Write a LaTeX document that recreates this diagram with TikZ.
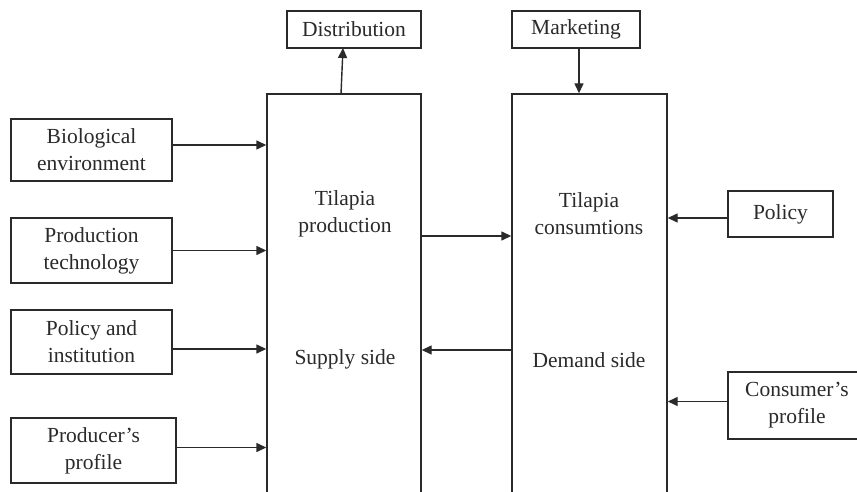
\documentclass[tikz,border=0pt]{standalone}
\usepackage{fontspec}
\setmainfont{Liberation Serif}
\usetikzlibrary{arrows.meta}
\definecolor{ink}{HTML}{2A2A2A}
\begin{document}
\begin{tikzpicture}[x=1pt,y=-1pt,
  box/.style={draw=ink,line width=1.4pt,inner sep=0pt,align=center,text=ink,
    font=\fontsize{21.5}{27}\selectfont},
  lbl/.style={inner sep=0pt,align=center,text=ink,font=\fontsize{21.5}{27}\selectfont},
  arr/.style={draw=ink,line width=1.4pt,-{Triangle[length=10pt,width=9pt]}}]
\useasboundingbox (0,0) rectangle (857,492);
\clip (0,0) rectangle (857,492);
\fill[white] (0,0) rectangle (857,492);
% big boxes
\node[box,minimum width=154,minimum height=430] (sup) at (344,309) {};
\node[box,minimum width=155,minimum height=430] (dem) at (589.5,309) {};
% texts in big boxes
\node[lbl] (tp) at (345,214) {Tilapia\\production};
\node[lbl] (ss) at (345,359) {Supply side};
\node[lbl] (tc) at (589,214) {Tilapia\\consumtions};
\node[lbl] (ds) at (589,360) {Demand side};
% top boxes
\node[box,minimum width=134,minimum height=37] (dist) at (354,29.5) {Distribution};
\node[box,minimum width=128,minimum height=37] (mkt) at (576,29.5) {Marketing};
% left boxes
\node[box,minimum width=161,minimum height=62] (bio) at (91.5,150) {Biological\\environment};
\node[box,minimum width=161,minimum height=65] (tech) at (91.5,250.5) {Production\\technology};
\node[box,minimum width=161,minimum height=64] (pol) at (91.5,342) {Policy and\\institution};
\node[box,minimum width=165,minimum height=65] (prod) at (93.5,450.5) {Producer’s\\profile};
% right boxes
\node[box,minimum width=105,minimum height=46] (rpol) at (780.5,214) {Policy};
\node[box,minimum width=138,minimum height=67] (cons) at (797,405.5) {Consumer’s\\profile};
% connectors
\coordinate (dfoot) at (341,94);
\coordinate (dtop) at (343,48);
\draw[arr] (dfoot) -- (dtop);
\coordinate (mfoot) at (579,48);
\draw[arr] (mfoot) -- (mfoot |- dem.north);
\draw[arr] ([yshift=5pt]bio.east) -- ([yshift=5pt]bio.east -| sup.west);
\draw[arr] (tech.east) -- (tech.east -| sup.west);
\draw[arr] ([yshift=-7pt]pol.east) -- ([yshift=-7pt]pol.east -| sup.west);
\draw[arr] ([yshift=3pt]prod.east) -- ([yshift=3pt]prod.east -| sup.west);
\coordinate (sd) at (421,236);
\draw[arr] (sd) -- (sd -| dem.west);
\coordinate (ds0) at (512,350);
\draw[arr] (ds0) -- (ds0 -| sup.east);
\draw[arr] ([yshift=-4pt]rpol.west) -- ([yshift=-4pt]rpol.west -| dem.east);
\draw[arr] ([yshift=4pt]cons.west) -- ([yshift=4pt]cons.west -| dem.east);
\end{tikzpicture}
\end{document}
